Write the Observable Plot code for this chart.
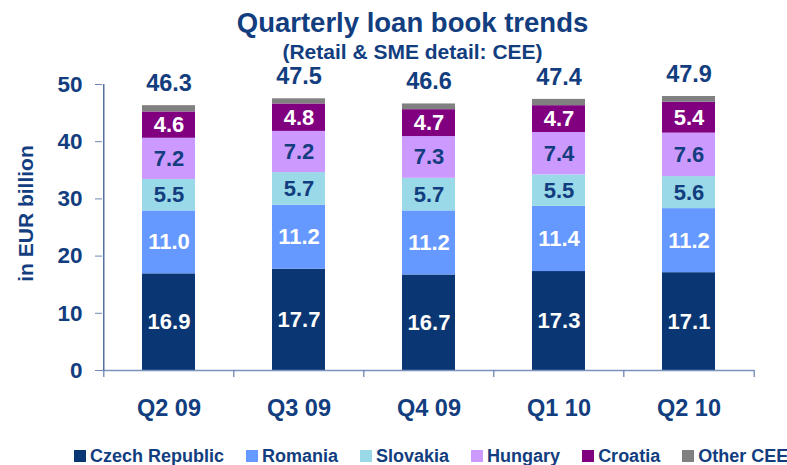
<!DOCTYPE html>
<html>
<head>
<meta charset="utf-8">
<script src="https://cdn.jsdelivr.net/npm/d3@7"></script>
<script src="https://cdn.jsdelivr.net/npm/@observablehq/plot@0.6"></script>
<style>
  html, body { margin: 0; padding: 0; background: #fff; overflow: hidden; }
  body { width: 787px; height: 465px; font-family: "Liberation Sans", Arial, sans-serif; color: #123D7E; }
  #title { text-align: center; font-weight: bold; font-size: 27.5px; line-height: 30px; padding-top: 8px; padding-left: 38px; height: 30px; }
  #subtitle { text-align: center; font-weight: bold; font-size: 21px; line-height: 22px; margin-top: 3px; padding-left: 38px; height: 17px; overflow: visible; }
  #chart svg { display: block; }
  #legend { display: flex; align-items: center; margin-top: 3px; padding-left: 74px; font-weight: bold; font-size: 18px; line-height: 20px; height: 20px; white-space: nowrap; }
  .item { display: flex; align-items: center; margin-right: 22px; }
  .sw { width: 12px; height: 12px; margin-right: 4px; }
  g[aria-label="y-axis tick"] { stroke: #6E86B4; }
</style>
</head>
<body>
<div id="title">Quarterly loan book trends</div>
<div id="subtitle">(Retail &amp; SME detail: CEE)</div>
<div id="chart"></div>
<div id="legend"></div>
<script>
const quarters = ["Q2 09", "Q3 09", "Q4 09", "Q1 10", "Q2 10"];
const seriesNames = ["Czech Republic", "Romania", "Slovakia", "Hungary", "Croatia", "Other CEE"];
const seriesColors = ["#0B3674", "#6699FF", "#9AD9E8", "#CC99FF", "#800080", "#808080"];
const czech    = [16.9, 17.7, 16.7, 17.3, 17.1];
const romania  = [11.0, 11.2, 11.2, 11.4, 11.2];
const slovakia = [5.5, 5.7, 5.7, 5.5, 5.6];
const hungary  = [7.2, 7.2, 7.3, 7.4, 7.6];
const croatia  = [4.6, 4.8, 4.7, 4.7, 5.4];
const otherCEE = [1.1, 0.9, 1.0, 1.1, 1.0];
const totals   = [46.3, 47.5, 46.6, 47.4, 47.9];
const yTicks   = [0, 10, 20, 30, 40, 50];
const yLabel   = "in EUR billion";

const seriesValues = [czech, romania, slovakia, hungary, croatia, otherCEE];
const whiteLabel = ["Czech Republic", "Romania", "Croatia"];
const navyLabel = ["Slovakia", "Hungary"];
const navy = "#123D7E";

// build stacked table
const rows = [];
quarters.forEach((q, i) => {
  let acc = 0;
  seriesNames.forEach((s, j) => {
    const v = seriesValues[j][i];
    rows.push({q, s, v, y1: acc, y2: acc + v});
    acc += v;
  });
});
const totalRows = quarters.map((q, i) => ({q, t: totals[i]}));

const W = 787, H = 385, ML = 102, MR = 33, MT = 26, MB = 73;
const step = (W - ML - MR) / quarters.length;
const yMax = yTicks[yTicks.length - 1];
const font = {fontSize: 22, fontWeight: "bold", fontFamily: "Liberation Sans, Arial, sans-serif"};

const chart = Plot.plot({
  width: W, height: H,
  marginLeft: ML, marginRight: MR, marginTop: MT, marginBottom: MB,
  style: {fontFamily: "Liberation Sans, Arial, sans-serif", background: "white"},
  x: {domain: quarters, paddingInner: 0.593, paddingOuter: 0.2965, label: null},
  y: {domain: [0, yMax], label: null},
  color: {domain: seriesNames, range: seriesColors},
  marks: [
    Plot.barY(rows, {x: "q", y1: "y1", y2: "y2", fill: "s"}),
    Plot.text(rows, {filter: d => whiteLabel.includes(d.s), x: "q", y: d => (d.y1 + d.y2) / 2, text: d => d.v.toFixed(1), fill: "white", ...font}),
    Plot.text(rows, {filter: d => navyLabel.includes(d.s), x: "q", y: d => (d.y1 + d.y2) / 2, text: d => d.v.toFixed(1), fill: navy, ...font}),
    Plot.text(totalRows, {x: "q", y: "t", text: d => d.t.toFixed(1), dy: -22, fill: navy, ...font, fontSize: 23.5}),
    // axes
    Plot.ruleY([0], {stroke: "#7B93BD", strokeWidth: 1.3}),
    Plot.ruleX([quarters[0]], {x: d => d, dx: -step / 2, y1: 0, y2: yMax, stroke: "#2B4E8A", strokeWidth: 1.2}),
    Plot.ruleX(quarters, {x: d => d, dx: -step / 2, y1: 0, y2: 0, insetBottom: -7, stroke: "#6E86B4", strokeWidth: 1.3}),
    Plot.ruleX([quarters[quarters.length - 1]], {x: d => d, dx: step / 2, y1: 0, y2: 0, insetBottom: -7, stroke: "#6E86B4", strokeWidth: 1.3}),
    Plot.axisY({ticks: yTicks, tickSize: 7, tickPadding: 13, label: null, fill: navy, fontSize: 22.5, fontWeight: "bold"}),
    Plot.axisX({tickSize: 0, tickPadding: 29, label: null, fill: navy, fontSize: 23.5, fontWeight: "bold"}),
    Plot.text([yLabel], {frameAnchor: "left", textAnchor: "middle", text: d => d, rotate: -90, dx: -76, dy: -14, fill: navy, fontSize: 21, fontWeight: "bold"})
  ]
});
document.getElementById("chart").appendChild(chart);

const legend = document.getElementById("legend");
seriesNames.forEach((s, i) => {
  const item = document.createElement("div");
  item.className = "item";
  const sw = document.createElement("div");
  sw.className = "sw";
  sw.style.background = seriesColors[i];
  const label = document.createElement("span");
  label.textContent = s;
  item.appendChild(sw);
  item.appendChild(label);
  legend.appendChild(item);
});
</script>
</body>
</html>
